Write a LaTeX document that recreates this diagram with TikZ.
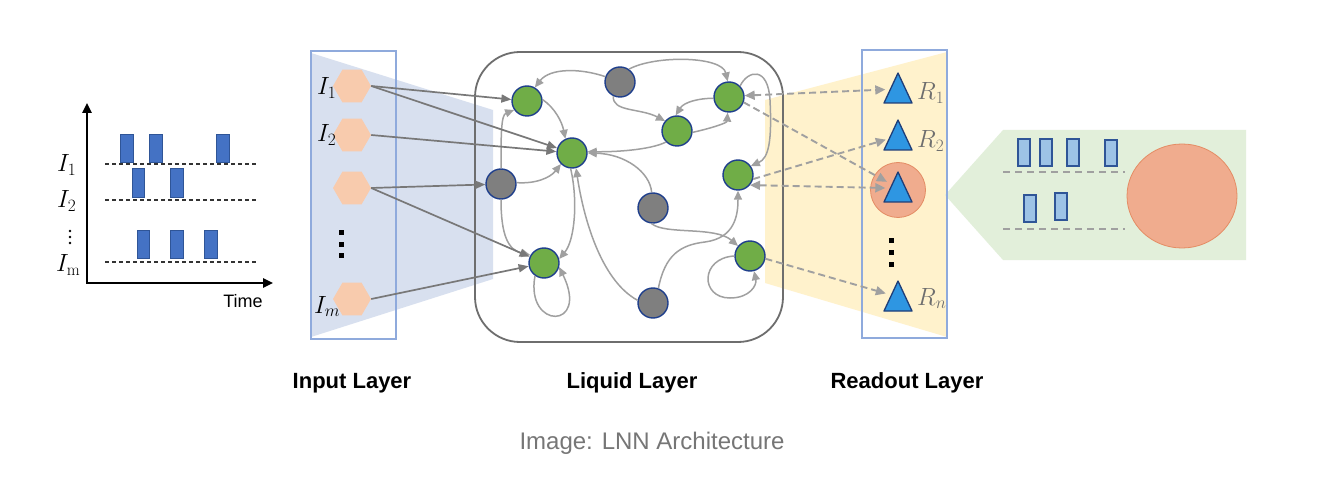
\documentclass[tikz,border=0pt]{standalone}
\usepackage{fontspec}
\newfontfamily\labfont{Liberation Sans}
\usetikzlibrary{arrows.meta,shapes.geometric}
\definecolor{barblue}{RGB}{68,114,196}
\definecolor{bardark}{RGB}{47,85,151}
\definecolor{inshade}{RGB}{216,224,239}
\definecolor{rectblue}{RGB}{143,170,220}
\definecolor{hexc}{RGB}{248,203,173}
\definecolor{yelshade}{RGB}{255,242,204}
\definecolor{trifill}{RGB}{46,150,226}
\definecolor{tridraw}{RGB}{31,62,120}
\definecolor{orfill}{RGB}{240,172,142}
\definecolor{ordraw}{RGB}{228,140,100}
\definecolor{callg}{RGB}{226,239,218}
\definecolor{cbarfill}{RGB}{157,195,230}
\definecolor{ngreen}{RGB}{112,173,71}
\definecolor{ngray}{RGB}{127,127,127}
\definecolor{nodeb}{RGB}{31,63,140}
\definecolor{edgeg}{RGB}{160,160,160}
\definecolor{inedge}{RGB}{120,120,120}
\definecolor{liqd}{RGB}{110,110,110}
\definecolor{capg}{RGB}{118,118,118}
\definecolor{rlab}{RGB}{110,110,110}
\begin{document}
\begin{tikzpicture}[x=1pt,y=-1pt,
  gn/.style={circle, draw=nodeb, fill=ngreen, line width=1.4pt, minimum size=30pt, inner sep=0pt},
  gy/.style={circle, draw=nodeb, fill=ngray, line width=1.4pt, minimum size=30pt, inner sep=0pt},
  hexa/.style={regular polygon, regular polygon sides=6, minimum size=38pt, inner sep=0pt, fill=hexc},
  tanchor/.style={circle, minimum size=25pt, inner sep=0pt},
  tri/.style={draw=tridraw, fill=trifill, line width=1.3pt, line join=round},
  le/.style={draw=edgeg, line width=1.5pt, -{Triangle[length=9pt,width=8pt]}},
  ie/.style={draw=inedge, line width=1.7pt, -{Triangle[length=10pt,width=8pt]}},
  de/.style={draw=edgeg, line width=1.9pt, dash pattern=on 7pt off 4pt, -{Triangle[length=10pt,width=9pt]}},
  dbl/.style={draw=edgeg, line width=1.9pt, dash pattern=on 7pt off 4pt, {Triangle[length=10pt,width=9pt]}-{Triangle[length=10pt,width=9pt]}},
  cbar/.style={draw=bardark, fill=barblue, line width=0.8pt},
  kbar/.style={draw=bardark, fill=cbarfill, line width=1.2pt},
  cdash/.style={draw=black!80, line width=1.2pt, dash pattern=on 4pt off 3pt},
  kdash/.style={draw=edgeg, line width=2.2pt, dash pattern=on 7pt off 5pt},
  axis/.style={draw=black, line width=2.4pt, {Triangle[length=10pt,width=9pt]}-{Triangle[length=10pt,width=9pt]}},
  mlab/.style={inner sep=0pt, font=\fontsize{24}{24}\selectfont},
  laylab/.style={inner sep=0pt, font=\labfont\bfseries\fontsize{22}{22}\selectfont},
]
\useasboundingbox (0,0) rectangle (1332,486);
\fill[white] (0,0) rectangle (1332,486);

% ---------- left chart ----------
\draw[axis] (87,103) -- (87,283) -- (273,283);
\draw[cdash] (105,164) -- (257,164);
\draw[cdash] (105,200) -- (257,200);
\draw[cdash] (105,262) -- (257,262);
\draw[cbar] (120,134) rectangle (133,162);
\draw[cbar] (149,134) rectangle (162,162);
\draw[cbar] (216,134) rectangle (229,162);
\draw[cbar] (132,168) rectangle (144,197);
\draw[cbar] (170,168) rectangle (183,197);
\draw[cbar] (137,230) rectangle (149,258);
\draw[cbar] (170,230) rectangle (183,258);
\draw[cbar] (204,230) rectangle (217,258);
\node[mlab, anchor=base west] (cl1) at (57,172) {$I_1$};
\node[mlab, anchor=base west] (cl2) at (57,208) {$I_2$};
\fill (70,231) circle (1.4pt);
\fill (70,237) circle (1.4pt);
\fill (70,243) circle (1.4pt);
\node[mlab, anchor=base west] (clm) at (56,272) {$I_{\mathrm{m}}$};
\node[inner sep=0pt, font=\labfont\fontsize{18}{18}\selectfont] (time) at (243,301) {Time};

% ---------- shadings ----------
\fill[inshade] (311,53) -- (493,110) -- (493,279) -- (311,337) -- cycle;
\fill[yelshade] (765,100) -- (947,52) -- (947,337) -- (765,283) -- cycle;
\fill[callg] (945,195) -- (1003,130) -- (1246,130) -- (1246,260) -- (1003,260) -- cycle;

% ---------- frames ----------
\draw[rectblue, line width=1.4pt] (311,51) rectangle (396,339);
\draw[rectblue, line width=1.4pt] (862,50) rectangle (947,338);
\draw[liqd, line width=1.8pt, rounded corners=45pt] (475,52) rectangle (783,342);

% ---------- input hexagons ----------
\node[hexa] (H1) at (352,86) {};
\node[hexa] (H2) at (352,135) {};
\node[hexa] (H3) at (352,188) {};
\node[hexa] (Hm) at (352,299) {};
\node[mlab, anchor=base west] (il1) at (317,95) {$I_1$};
\node[mlab, anchor=base west] (il2) at (317,142) {$I_2$};
\node[mlab, anchor=base west] (ilm) at (314,313) {$I_m$};
\fill (339,230) rectangle (344,235);
\fill (339,242) rectangle (344,247);
\fill (339,253) rectangle (344,258);

% ---------- liquid nodes ----------
\node[gn] (G1) at (527,101) {};
\node[gn] (G2) at (572,153) {};
\node[gy] (A)  at (501,184) {};
\node[gn] (G3) at (544,263) {};
\node[gy] (B)  at (620,82) {};
\node[gn] (G4) at (729,97) {};
\node[gn] (G5) at (677,131) {};
\node[gn] (G6) at (738,175) {};
\node[gy] (C)  at (653,208) {};
\node[gn] (G7) at (750,256) {};
\node[gy] (D)  at (653,303) {};

% ---------- liquid edges ----------
\draw[le] (B.160) .. controls (580,68) and (550,68) .. (G1.60);
\draw[le] (B.55) .. controls (655,55) and (722,56) .. (G4.95);
\draw[le] (B.245) .. controls (612,112) and (640,108) .. (G5.140);
\draw[le] (G4.185) .. controls (700,98) and (684,102) .. (G5.95);
\draw[le] (G5.355) .. controls (712,128) and (727,123) .. (G4.265);
\draw[le] (G5.225) .. controls (650,150) and (615,152) .. (G2.5);
\draw[le] (C.95) .. controls (650,172) and (625,154) .. (G2.0);
\draw[le] (G1.5) .. controls (555,108) and (562,122) .. (G2.115);
\draw[le] (A.5) .. controls (535,184) and (550,178) .. (G2.225);
\draw[le] (A.90) .. controls (501,135) and (501,115) .. (G1.215);
\draw[le] (A.270) .. controls (501,235) and (508,250) .. (G3.150);
\draw[le] (G3.235) .. controls (525,330) and (590,330) .. (G3.345);
\draw[le] (G2.265) .. controls (578,200) and (575,240) .. (G3.15);
\draw[le] (D.170) .. controls (600,280) and (583,215) .. (G2.285);
\draw[le] (C.265) .. controls (665,235) and (715,226) .. (G7.140);
\draw[le] (D.70) .. controls (665,255) and (680,245) .. (705,242) .. controls (735,238) and (738,215) .. (G6.270);
\draw[le] (G7.180) .. controls (700,258) and (700,298) .. (730,298) .. controls (750,298) and (757,285) .. (G7.285);
\draw[le] (G4.45) .. controls (748,70) and (768,66) .. (770,100) .. controls (772,140) and (769,158) .. (G6.35);

% ---------- input edges ----------
\draw[ie] (H1.east) -- (G1);
\draw[ie] (H1.east) -- (G2);
\draw[ie] (H2.east) -- (G2);
\draw[ie] (H3.east) -- (A);
\draw[ie] (H3.east) -- (G3);
\draw[ie] (Hm.east) -- (G3);

% ---------- readout ----------
\node[circle, draw=ordraw, fill=orfill, line width=0.8pt, minimum size=55pt, inner sep=0pt] (O3) at (898,190) {};
\node[tanchor] (R1) at (898,89) {};
\node[tanchor] (R2) at (898,136) {};
\node[tanchor] (R3) at (898,188) {};
\node[tanchor] (Rn) at (898,297) {};
\draw[tri] (R1.center) ++(0,-16) -- ++(14,30) -- ++(-28,0) -- cycle;
\draw[tri] (R2.center) ++(0,-16) -- ++(14,30) -- ++(-28,0) -- cycle;
\draw[tri] (R3.center) ++(0,-16) -- ++(14,30) -- ++(-28,0) -- cycle;
\draw[tri] (Rn.center) ++(0,-16) -- ++(14,30) -- ++(-28,0) -- cycle;
\node[mlab, text=rlab, anchor=base west] (rl1) at (917,100) {$R_1$};
\node[mlab, text=rlab, anchor=base west] (rl2) at (917,148) {$R_2$};
\node[mlab, text=rlab, anchor=base west] (rln) at (917,305) {$R_n$};
\fill (889,238) rectangle (894,243);
\fill (889,250) rectangle (894,255);
\fill (889,262) rectangle (894,267);

% ---------- readout edges ----------
\draw[dbl] (G4.5) -- (R1);
\draw[de] (G4.-20) -- (R3);
\draw[de] (G6.-15) -- (R2);
\draw[dbl] (G6.-40) -- (R3.180);
\draw[de] (G7.-10) -- (Rn);

% ---------- callout ----------
\draw[kbar] (1018,139) rectangle (1030,166);
\draw[kbar] (1040,139) rectangle (1052,166);
\draw[kbar] (1067,139) rectangle (1079,166);
\draw[kbar] (1105,140) rectangle (1117,166);
\draw[kbar] (1024,195) rectangle (1036,222);
\draw[kbar] (1055,193) rectangle (1067,220);
\draw[kdash] (1003,172) -- (1125,172);
\draw[kdash] (1003,229) -- (1125,229);
\node[ellipse, draw=ordraw, fill=orfill, line width=0.8pt, minimum width=110pt, minimum height=104pt, inner sep=0pt] (big) at (1182,196) {};

% ---------- labels ----------
\node[laylab] (lin) at (352,383) {Input Layer};
\node[laylab] (lliq) at (632,383) {Liquid Layer};
\node[laylab] (lread) at (907,383) {Readout Layer};
\node[inner sep=0pt, text=capg, font=\labfont\fontsize{24}{24}\selectfont] (cap) at (652,443) {Image: LNN Architecture};
\end{tikzpicture}
\end{document}
